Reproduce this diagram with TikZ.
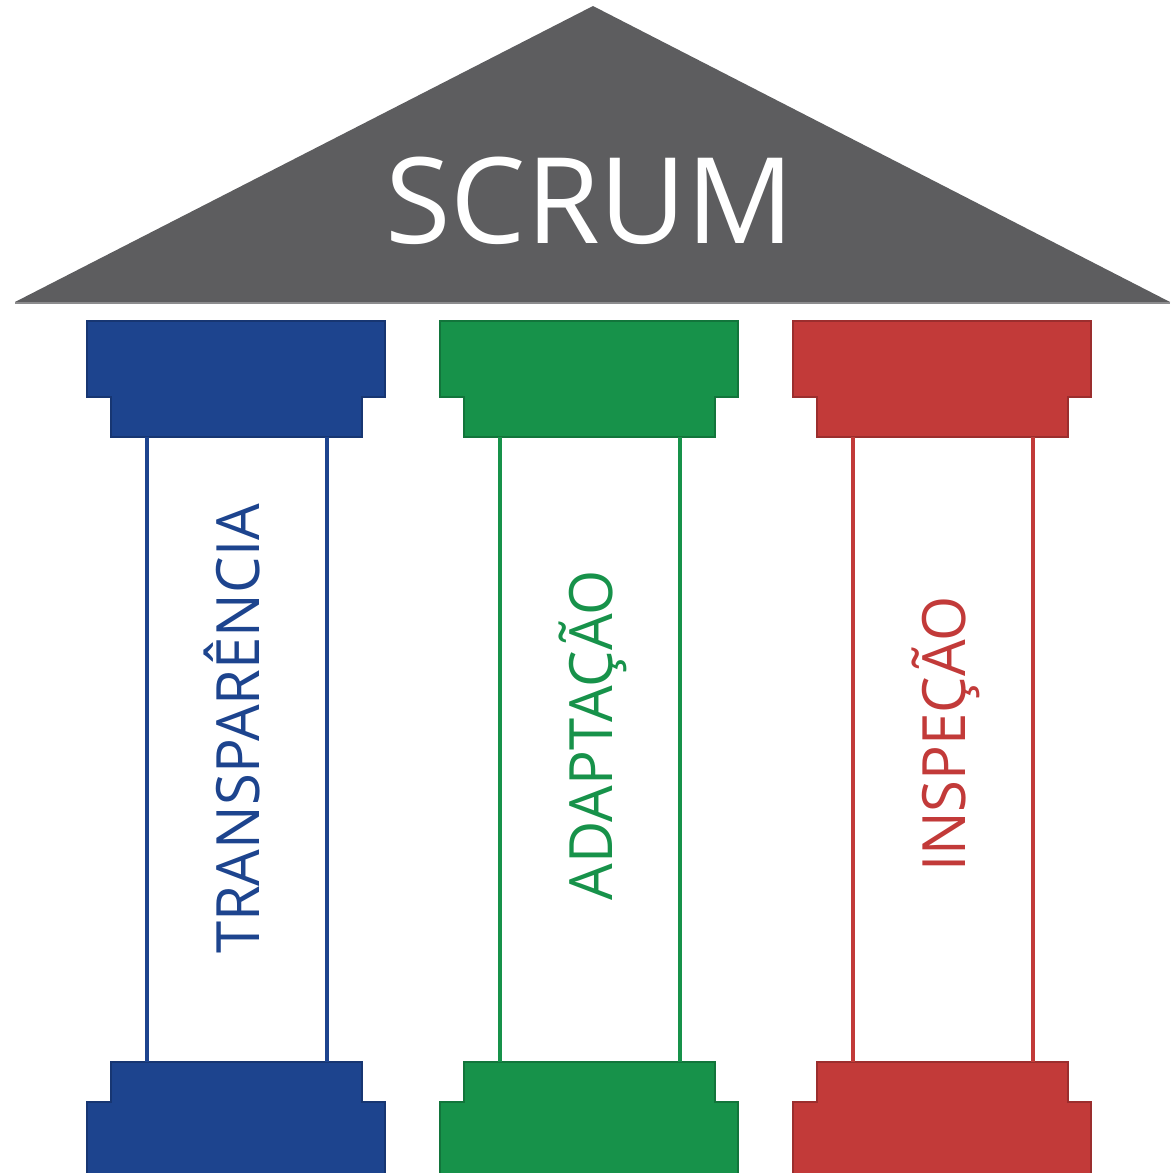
\documentclass[tikz,border=0pt]{standalone}
\usepackage{fontspec}
\setmainfont{Open Sans}
\usepackage{xcolor}
\definecolor{roof-gray}{RGB}{93,93,95}
\definecolor{roof-edge}{RGB}{140,140,142}
\definecolor{pillar-blue}{RGB}{29,68,142}
\definecolor{pillar-green}{RGB}{23,146,74}
\definecolor{pillar-red}{RGB}{194,58,57}
\usepackage{tikz}

\tikzset{
    capital/.style={fill=#1, draw=#1!80!black, line width=1.2pt},
    shaft/.style={draw=#1, line width=2.1pt},
    pillar label/.style={text=#1, rotate=90, inner sep=0pt, anchor=base,
        font=\fontsize{34}{34}\selectfont}
}

\begin{document}
\begin{tikzpicture}[x=0.02cm, y=-0.02cm]

\useasboundingbox (0,0) rectangle (1171,1173);

% Roof
\fill[roof-gray] (593,6) -- (1170,302) -- (15,302) -- cycle;
\draw[roof-edge, line width=1.2pt] (15,303) -- (1170,303);
\node[text=white, inner sep=0pt, anchor=base, font=\fontsize{68}{68}\selectfont]
    (title) at (590,243) {SCRUM};

% Pillars
\foreach \i/\col/\dx/\word/\ypos in {
    1/pillar-blue/0/TRANSPARÊNCIA/729,
    2/pillar-green/353/ADAPTAÇÃO/735,
    3/pillar-red/706/INSPEÇÃO/734} {
    \begin{scope}[xshift=\dx*0.02cm]
        % Top capital
        \path[capital=\col]
            (87,321) -- (385,321) -- (385,397) -- (362,397) -- (362,437)
            -- (111,437) -- (111,397) -- (87,397) -- cycle;
        % Base
        \path[capital=\col]
            (111,1062) -- (362,1062) -- (362,1102) -- (385,1102) -- (385,1176)
            -- (87,1176) -- (87,1102) -- (111,1102) -- cycle;
        % Shaft
        \coordinate (p\i-tl) at (147,437);
        \coordinate (p\i-bl) at (147,1062);
        \coordinate (p\i-tr) at (327,437);
        \coordinate (p\i-br) at (327,1062);
        \draw[shaft=\col] (p\i-tl) -- (p\i-bl);
        \draw[shaft=\col] (p\i-tr) -- (p\i-br);
        % Label
        \node[pillar label=\col] (label\i) at (259,\ypos) {\scalebox{0.97}[1]{\word}};
    \end{scope}
}

\end{tikzpicture}
\end{document}
